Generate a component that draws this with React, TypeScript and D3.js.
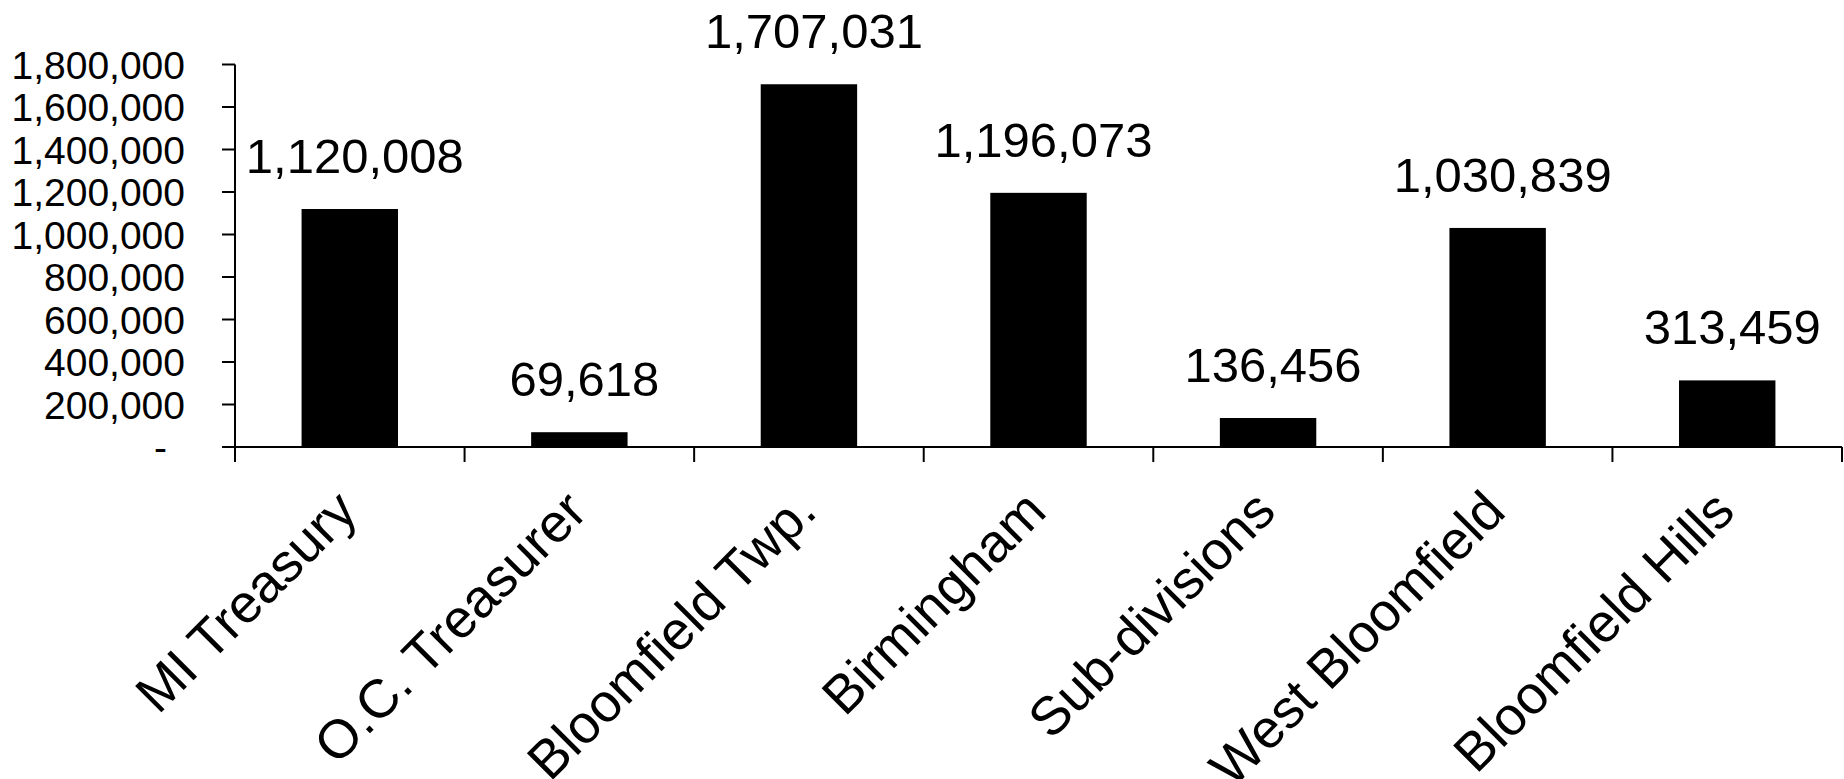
import React from "react";
import * as d3 from "d3";

const categories = [
  "MI Treasury",
  "O.C. Treasurer",
  "Bloomfield Twp.",
  "Birmingham",
  "Sub-divisions",
  "West Bloomfield",
  "Bloomfield Hills",
];
const values = [1120008, 69618, 1707031, 1196073, 136456, 1030839, 313459];
const yTicks = [0, 200000, 400000, 600000, 800000, 1000000, 1200000, 1400000, 1600000, 1800000];

const W = 1844;
const H = 779;
const FONT = "'Liberation Sans', Arial, sans-serif";

export default function App() {
  const x0 = 235;
  const x1 = 1842;
  const yTop = 64.5;
  const yBase = 447;
  const x = d3.scaleBand<string>().domain(categories).range([x0, x1]).padding(0);
  const y = d3.scaleLinear().domain([0, 1800000]).range([yBase, yTop]);
  const barW = x.bandwidth() * 0.42;
  const fmt = d3.format(",");

  return (
    <svg
      width={W}
      height={H}
      style={{ position: "absolute", left: 0, top: 0, background: "#fff" }}
      fontFamily={FONT}
    >
      <rect x={0} y={0} width={W} height={H} fill="#fff" />
      {/* y axis */}
      <line x1={x0} x2={x0} y1={yTop} y2={yBase + 15} stroke="#000" strokeWidth={2} />
      {yTicks.map((t) => (
        <g key={t}>
          <line x1={x0 - 13} x2={x0} y1={y(t)} y2={y(t)} stroke="#000" strokeWidth={2} />
          <text
            x={t === 0 ? 167 : 185}
            y={y(t)}
            dy="0.36em"
            textAnchor="end"
            fontSize={39}
            fill="#000"
          >
            {t === 0 ? "-" : fmt(t)}
          </text>
        </g>
      ))}
      {/* bars */}
      {categories.map((c, i) => {
        const cx = (x(c) as number) + x.bandwidth() / 2;
        return (
          <g key={c}>
            <rect
              x={cx - barW / 2}
              y={y(values[i])}
              width={barW}
              height={yBase - y(values[i])}
              fill="#000"
            />
            <text
              x={cx + 5}
              y={y(values[i]) - 36}
              textAnchor="middle"
              fontSize={49}
              fill="#000"
            >
              {fmt(values[i])}
            </text>
          </g>
        );
      })}
      {/* x axis */}
      <line x1={x0} x2={x1} y1={yBase} y2={yBase} stroke="#000" strokeWidth={2} />
      {categories.map((c, i) => (
        <line
          key={"t" + i}
          x1={(x(c) as number) + x.bandwidth()}
          x2={(x(c) as number) + x.bandwidth()}
          y1={yBase}
          y2={yBase + 15}
          stroke="#000"
          strokeWidth={2}
        />
      ))}
      {categories.map((c) => {
        const cx = (x(c) as number) + x.bandwidth() / 2;
        return (
          <text
            key={"l" + c}
            transform={`translate(${cx + 10},${514}) rotate(-45)`}
            textAnchor="end"
            fontSize={54}
            fill="#000"
          >
            {c}
          </text>
        );
      })}
    </svg>
  );
}
